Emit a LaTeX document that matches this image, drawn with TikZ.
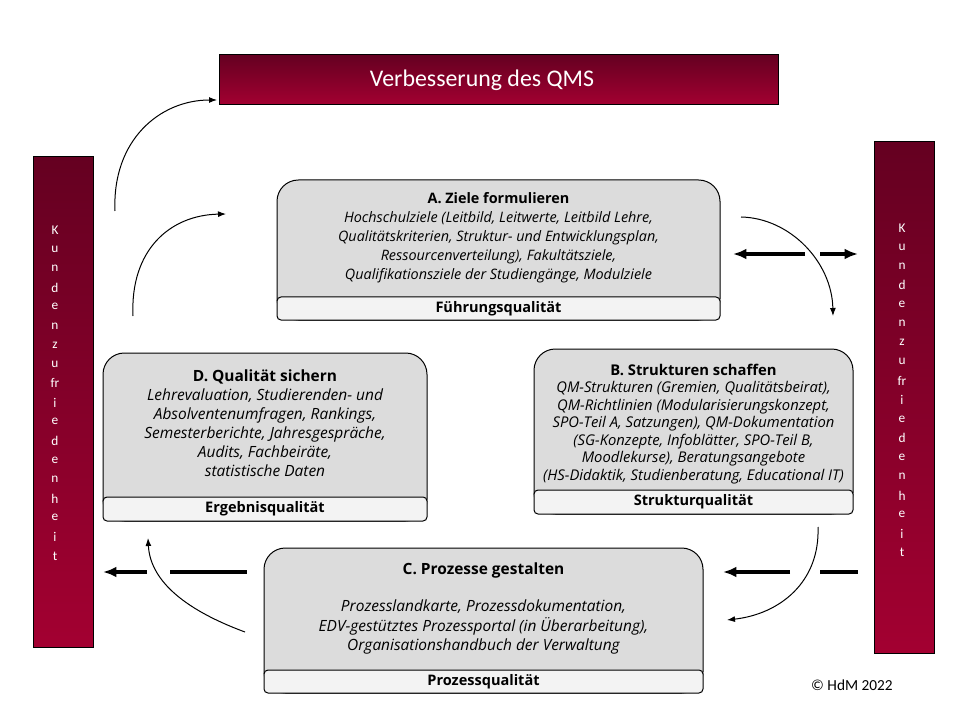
\documentclass[tikz,border=0pt]{standalone}
\usepackage{fontspec}
\setmainfont{Open Sans}
\newfontfamily\calibri{Carlito}
\usepackage{xcolor}
\usetikzlibrary{arrows.meta}
\definecolor{darkred}{HTML}{650021}
\definecolor{brightred}{HTML}{A30031}
\definecolor{boxgray}{HTML}{DCDCDC}
\definecolor{stripgray}{HTML}{F3F3F3}
\newcommand{\boxtitle}[1]{{\upshape\bfseries #1}}

\tikzset{
	redfill/.style={top color=darkred, bottom color=brightred, draw=black, line width=0.75pt},
	qbody/.style={draw=black, fill=boxgray, line width=0.75pt, rounded corners=16pt},
	qstrip/.style={draw=black, fill=stripgray, line width=0.75pt, rounded corners=3pt},
	boxtext/.style={align=center, inner sep=0.75pt, font=\itshape\fontsize{10.8}{14.3}\selectfont},
	widetext/.style={boxtext, font=\itshape\fontsize{11.6}{14.3}\selectfont},
	smalltext/.style={boxtext, font=\itshape\fontsize{11.1}{13.1}\selectfont},
	striptext/.style={inner sep=0.75pt, font=\bfseries\fontsize{10.9}{12}\selectfont},
	barletter/.style={text=white, inner sep=0pt, font=\calibri\fontsize{10}{12}\selectfont},
	bannertext/.style={text=white, inner sep=0.75pt, font=\calibri\fontsize{17.9}{21}\selectfont},
	thinarrow/.style={-{Latex[length=6pt,width=4.5pt]}, line width=0.75pt},
	thickarrow/.style={-{Latex[length=10pt,width=8pt]}, line width=2.6pt},
	thickline/.style={line width=2.6pt}
}

\begin{document}
\begin{tikzpicture}[x=0.75pt,y=0.75pt,yscale=-1,xscale=1]
	\useasboundingbox (0,0) rectangle (960,720);
	\shadedraw [redfill] (219,55) rectangle (778,105);
	\node [bannertext] (qms) at (482,80) {Verbesserung des QMS};
	\shadedraw [redfill] (33,157) rectangle (93,647);
	\shadedraw [redfill] (874,142) rectangle (934,653);
	\foreach \ch [count=\i from 0] in {K,u,n,d,e,n,z,u,fr,i,e,d,e,n,h,e,i,t} {
		\node [barletter] (kl\i) at (55,230+19.17*\i) {\ch};
		\node [barletter] (kr\i) at (902,228+19.1*\i) {\ch};
	}
	\draw [qbody] (277,180) rectangle (720,320);
	\draw [qstrip] (277,297) rectangle (720,320);
	\node [boxtext] (zieleA) at (498.5,237.5) {\boxtitle{A. Ziele formulieren}\\Hochschulziele (Leitbild, Leitwerte, Leitbild Lehre,\\Qualitätskriterien, Struktur- und Entwicklungsplan,\\Ressourcenverteilung), Fakultätsziele,\\Qualifikationsziele der Studiengänge, Modulziele};
	\node [striptext] (fuehrung) at (498.5,308.5) {Führungsqualität};
	\draw [qbody] (103,353) rectangle (427,521);
	\draw [qstrip] (103,497) rectangle (427,521);
	\node [widetext] (sichernD) at (265,423) {\boxtitle{D. Qualität sichern}\\Lehrevaluation, Studierenden- und\\Absolventenumfragen, Rankings,\\Semesterberichte, Jahresgespräche,\\Audits, Fachbeiräte,\\statistische Daten};
	\node [striptext] (ergebnis) at (265,509) {Ergebnisqualität};
	\draw [qbody] (534,349) rectangle (853,514);
	\draw [qstrip] (534,490) rectangle (853,514);
	\node [smalltext] (schaffenB) at (693.5,424) {\boxtitle{B. Strukturen schaffen}\\QM-Strukturen (Gremien, Qualitätsbeirat),\\QM-Richtlinien (Modularisierungskonzept,\\SPO-Teil A, Satzungen), QM-Dokumentation\\(SG-Konzepte, Infoblätter, SPO-Teil B,\\Moodlekurse), Beratungsangebote\\(HS-Didaktik, Studienberatung, Educational IT)};
	\node [striptext] (struktur) at (693.5,502) {Strukturqualität};
	\draw [qbody] (264,548) rectangle (703,693);
	\draw [qstrip] (264,670) rectangle (703,693);
	\node [widetext] (gestaltenC) at (483.5,570) {\boxtitle{C. Prozesse gestalten}};
	\node [widetext] (prozesseC) at (483.5,627) {Prozesslandkarte, Prozessdokumentation,\\EDV-gestütztes Prozessportal (in Überarbeitung),\\Organisationshandbuch der Verwaltung};
	\node [striptext] (prozess) at (483.5,681.5) {Prozessqualität};
	\node [inner sep=0.75pt, font=\calibri\fontsize{11.5}{13}\selectfont] (hdm) at (852,685) {© HdM 2022};
	\coordinate (qa) at (115,211);
	\coordinate (qb) at (217,100);
	\coordinate (da) at (133,316);
	\coordinate (db) at (226,214);
	\coordinate (aa) at (741,217);
	\coordinate (ab) at (833,316);
	\coordinate (ba) at (818,527);
	\coordinate (bb) at (727,620);
	\coordinate (ca) at (245,632);
	\coordinate (cb) at (148,538);
	\draw [thinarrow] (qa) .. controls (112,140) and (160,100) .. (qb);
	\draw [thinarrow] (da) .. controls (130,250) and (170,215) .. (db);
	\draw [thinarrow] (aa) .. controls (790,218) and (832,262) .. (ab);
	\draw [thinarrow] (ba) .. controls (820,582) and (780,614) .. (bb);
	\draw [thinarrow] (ca) .. controls (180,608) and (150,578) .. (cb);
	\coordinate (ra1) at (805,254);
	\coordinate (ra2) at (733,254);
	\coordinate (ra3) at (820,254);
	\coordinate (ra4) at (858,254);
	\coordinate (rb1) at (790,572);
	\coordinate (rb2) at (723,572);
	\coordinate (rb3) at (820,572);
	\coordinate (rb4) at (858,572);
	\coordinate (lb1) at (147,572);
	\coordinate (lb2) at (103,572);
	\coordinate (lb3) at (170,572);
	\coordinate (lb4) at (247,572);
	\draw [thickarrow] (ra1) -- (ra2);
	\draw [thickarrow] (ra3) -- (ra4);
	\draw [thickarrow] (rb1) -- (rb2);
	\draw [thickline] (rb3) -- (rb4);
	\draw [thickarrow] (lb1) -- (lb2);
	\draw [thickline] (lb3) -- (lb4);
\end{tikzpicture}
\end{document}
